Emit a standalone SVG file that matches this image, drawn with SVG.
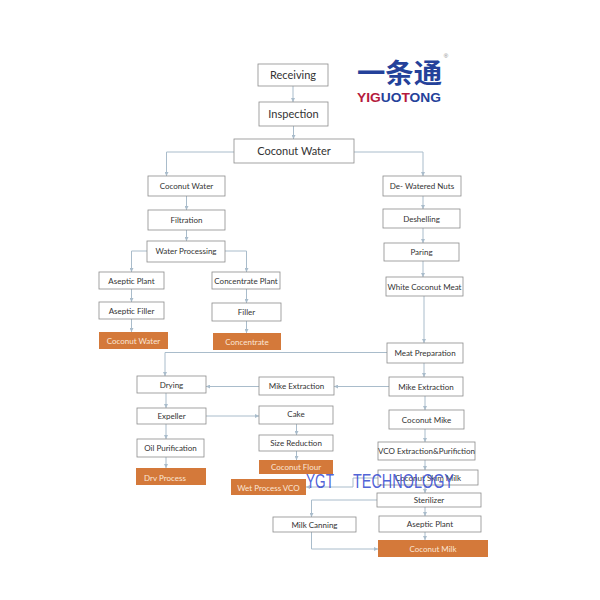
<svg xmlns="http://www.w3.org/2000/svg" width="600" height="600" viewBox="0 0 600 600">
<style>
.b{fill:#fff;stroke:#8c8c8c;stroke-width:0.8}
.o{fill:#d4793a;stroke:none}
.t{font-family:Lato,"Open Sans",sans-serif;font-size:8px;fill:#333;text-anchor:middle}
.L{font-size:11px}
.ot{fill:#fbe6d6}
.c{fill:none;stroke:#a9bccb;stroke-width:1;marker-end:url(#a)}
</style>
<defs>
<marker id="a" viewBox="0 0 6 6" refX="6" refY="3" markerWidth="4" markerHeight="4" orient="auto" markerUnits="userSpaceOnUse">
<path d="M0,0 L6,3 L0,6 z" fill="#a9bccb"/>
</marker>
</defs>
<rect width="600" height="600" fill="#fff"/>

<g id="logo">
<text x="357" y="83" font-family="'Noto Sans CJK SC',sans-serif" font-weight="bold" font-size="27" fill="#24419a" textLength="85" lengthAdjust="spacingAndGlyphs">一条通</text>
<text x="357" y="102" font-family="'Liberation Sans',Arial,sans-serif" font-weight="bold" font-size="12.5" textLength="84" lengthAdjust="spacingAndGlyphs"><tspan fill="#b51a3c">YIG</tspan><tspan fill="#24419a">UO</tspan><tspan fill="#b51a3c">T</tspan><tspan fill="#24419a">ONG</tspan></text>
<text x="446" y="58" font-family="'Liberation Sans',Arial,sans-serif" font-size="6" fill="#888" text-anchor="middle">®</text>
</g>

<g id="connectors">
<path class="c" d="M293,86 V102"/>
<path class="c" d="M293.5,126 V139"/>
<path class="c" d="M234,152 H166.5 V176"/>
<path class="c" d="M354,152 H423 V176"/>
<path class="c" d="M186.5,196 V210"/>
<path class="c" d="M186.5,230 V241"/>
<path class="c" d="M147,251 H131.5 V272"/>
<path class="c" d="M225,251 H246.5 V272"/>
<path class="c" d="M131.5,289 V302"/>
<path class="c" d="M131.5,319 V332"/>
<path class="c" d="M246.5,289 V303"/>
<path class="c" d="M246.5,321 V333"/>
<path class="c" d="M423,196 V209"/>
<path class="c" d="M423,228 V243"/>
<path class="c" d="M423,261 V277"/>
<path class="c" d="M424,296 V343"/>
<path class="c" d="M387,352.5 H165 V376"/>
<path class="c" d="M424,363 V377"/>
<path class="c" d="M389,386.5 H334"/>
<path class="c" d="M259,386.5 H206"/>
<path class="c" d="M206,416 H259"/>
<path class="c" d="M296.5,424 V435"/>
<path class="c" d="M296.5,451 V460"/>
<path class="c" d="M166,393 V408"/>
<path class="c" d="M166,424 V439"/>
<path class="c" d="M166,457 V468"/>
<path class="c" d="M425,396 V410"/>
<path class="c" d="M425,429 V442"/>
<path class="c" d="M425,460 V470"/>
<path class="c" d="M425,485 V493"/>
<path class="c" d="M425,507 V516"/>
<path class="c" d="M425,532 V540"/>
<path class="c" d="M378,478 H353 V487 H306"/>
<path class="c" d="M377,500 H311.5 V517"/>
<path class="c" d="M311.5,532 V549 H378"/>
</g>

<g id="n-receiving"><rect class="b" x="258" y="64" width="70" height="22"/><text class="t L" x="293" y="79">Receiving</text></g>
<g id="n-inspection"><rect class="b" x="259" y="102" width="69" height="24"/><text class="t L" x="293.5" y="118">Inspection</text></g>
<g id="n-coconut-water-top"><rect class="b" x="234" y="139" width="120" height="24"/><text class="t L" x="294" y="155">Coconut Water</text></g>

<g id="n-coconut-water"><rect class="b" x="148" y="176" width="77" height="20"/><text class="t" x="186.5" y="189">Coconut Water</text></g>
<g id="n-filtration"><rect class="b" x="148" y="210" width="77" height="20"/><text class="t" x="186.5" y="223">Filtration</text></g>
<g id="n-water-processing"><rect class="b" x="147" y="241" width="78" height="21"/><text class="t" x="186" y="254">Water Processing</text></g>
<g id="n-aseptic-plant-l"><rect class="b" x="99" y="272" width="65" height="17"/><text class="t" x="131.5" y="283.5">Aseptic Plant</text></g>
<g id="n-aseptic-filler"><rect class="b" x="99" y="302" width="65" height="17"/><text class="t" x="131.5" y="313.5">Aseptic Filler</text></g>
<g id="n-coconut-water-out"><rect class="o" x="99" y="332" width="69" height="17"/><text class="t ot" x="133.5" y="344" font-size="9.5">Coconut Water</text></g>
<g id="n-concentrate-plant"><rect class="b" x="212" y="272" width="68" height="17"/><text class="t" x="246" y="283.5">Concentrate Plant</text></g>
<g id="n-filler"><rect class="b" x="212" y="303" width="69" height="18"/><text class="t" x="246.5" y="315">Filler</text></g>
<g id="n-concentrate"><rect class="o" x="213" y="333" width="68" height="17"/><text class="t ot" x="247" y="345" font-size="9.5">Concentrate</text></g>

<g id="n-dewatered"><rect class="b" x="383" y="176" width="78" height="20"/><text class="t" x="422" y="189">De- Watered Nuts</text></g>
<g id="n-deshelling"><rect class="b" x="383" y="209" width="77" height="19"/><text class="t" x="421.5" y="221.5">Deshelling</text></g>
<g id="n-paring"><rect class="b" x="384" y="243" width="75" height="18"/><text class="t" x="421.5" y="255">Paring</text></g>
<g id="n-white-meat"><rect class="b" x="386" y="277" width="77" height="19"/><text class="t" x="424.5" y="289.5">White Coconut Meat</text></g>
<g id="n-meat-prep"><rect class="b" x="387" y="343" width="76" height="20"/><text class="t" x="425" y="356">Meat Preparation</text></g>
<g id="n-mike-extraction-r"><rect class="b" x="389" y="377" width="74" height="19"/><text class="t" x="426" y="389.5">Mike Extraction</text></g>
<g id="n-coconut-mike"><rect class="b" x="389" y="410" width="75" height="19"/><text class="t" x="426.5" y="422.5">Coconut Mike</text></g>
<g id="n-vco"><rect class="b" x="378" y="442" width="97" height="18"/><text class="t" x="426.5" y="454">VCO Extraction&amp;Purifiction</text></g>
<g id="n-skim-milk"><rect class="b" x="378" y="470" width="100" height="15"/><text class="t" x="428" y="480.5" font-size="7">Coconut Skim Milk</text></g>
<g id="n-sterilizer"><rect class="b" x="377" y="493" width="104" height="14"/><text class="t" x="429" y="503">Sterilizer</text></g>
<g id="n-aseptic-plant-r"><rect class="b" x="379" y="516" width="102" height="16"/><text class="t" x="430" y="527">Aseptic Plant</text></g>
<g id="n-coconut-milk"><rect class="o" x="378" y="540" width="110" height="17"/><text class="t ot" x="433" y="552" font-size="9">Coconut Milk</text></g>

<g id="n-mike-extraction-m"><rect class="b" x="259" y="377" width="75" height="18"/><text class="t" x="296.5" y="389">Mike Extraction</text></g>
<g id="n-cake"><rect class="b" x="259" y="406" width="74" height="18"/><text class="t" x="296" y="417">Cake</text></g>
<g id="n-size-reduction"><rect class="b" x="259" y="435" width="74" height="16"/><text class="t" x="296" y="446">Size Reduction</text></g>
<g id="n-coconut-flour"><rect class="o" x="259" y="460" width="74" height="14"/><text class="t ot" x="296" y="469.5" font-size="7.5">Coconut Flour</text></g>

<g id="n-drying"><rect class="b" x="137" y="376" width="69" height="17"/><text class="t" x="171.5" y="387.5">Drying</text></g>
<g id="n-expeller"><rect class="b" x="137" y="408" width="69" height="16"/><text class="t" x="171.5" y="419">Expeller</text></g>
<g id="n-oil-purification"><rect class="b" x="137" y="439" width="67" height="18"/><text class="t" x="170.5" y="451">Oil Purification</text></g>
<g id="n-drv-process"><rect class="o" x="136" y="468" width="70" height="17"/><text class="t ot" x="165" y="480.5" font-size="10.5">Drv Process</text></g>

<g id="n-wet-process"><rect class="o" x="231" y="479" width="75" height="16"/><text class="t ot" x="268.5" y="490.5" font-size="9">Wet Process VCO</text></g>
<g id="n-milk-canning"><rect class="b" x="273" y="517" width="83" height="15"/><text class="t" x="314.5" y="527.5">Milk Canning</text></g>

<g id="watermark" font-family="'Liberation Sans',Arial,sans-serif" font-size="21" fill="#3a4fd2" fill-opacity="0.9">
<text x="306" y="488" textLength="28" lengthAdjust="spacingAndGlyphs">YGT</text>
<text x="353" y="488" textLength="101" lengthAdjust="spacingAndGlyphs">TECHNOLOGY</text>
</g>
</svg>
